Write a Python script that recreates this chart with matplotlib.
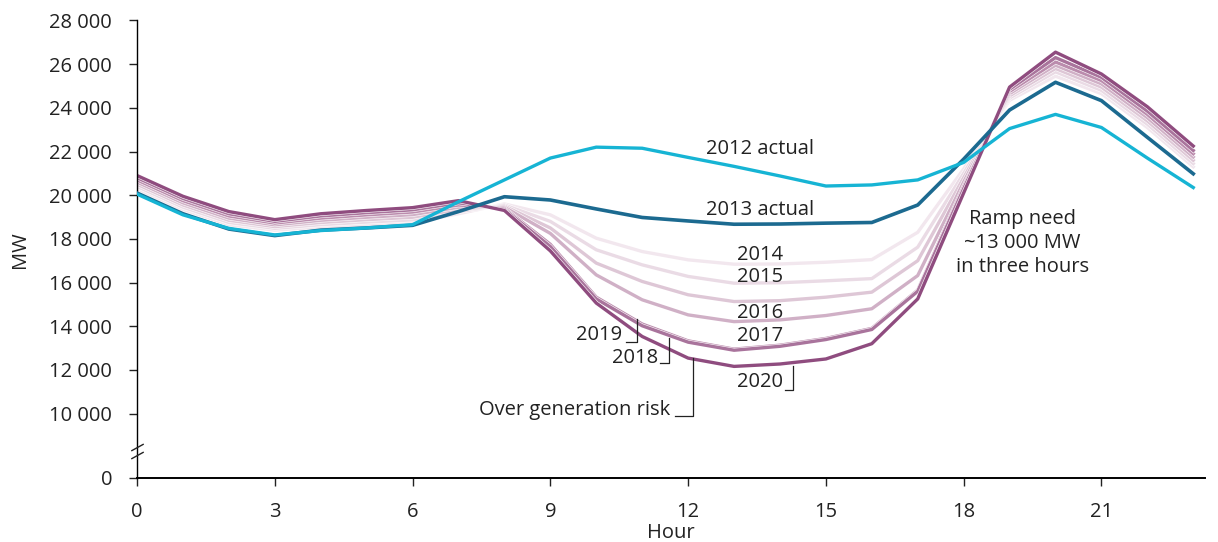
import numpy as np
import matplotlib.pyplot as plt
import matplotlib.patheffects as pe

# hourly net load, MW
hours = np.arange(24)
y2012 = [20050, 19100, 18480, 18180, 18380, 18500, 18650, 19700, 20700, 21700, 22200, 22150,
         21730, 21320, 20880, 20420, 20470, 20700, 21500, 23050, 23700, 23100, 21700, 20350]
y2013 = [20100, 19150, 18450, 18150, 18400, 18500, 18620, 19250, 19930, 19780, 19370, 18980,
         18820, 18670, 18680, 18720, 18750, 19550, 21650, 23900, 25170, 24330, 22650, 20980]
y2014 = [20300, 19350, 18650, 18400, 18550, 18650, 18750, 19150, 19600, 19100, 18030, 17420,
         17040, 16840, 16850, 16930, 17050, 18300, 21200, 24350, 25450, 24650, 23100, 21300]
y2015 = [20400, 19450, 18750, 18480, 18650, 18770, 18870, 19250, 19550, 18800, 17500, 16810,
         16280, 15970, 15990, 16080, 16180, 17620, 21000, 24450, 25650, 24800, 23250, 21450]
y2016 = [20500, 19550, 18850, 18560, 18750, 18880, 18990, 19350, 19500, 18500, 16890, 16050,
         15440, 15130, 15170, 15330, 15560, 17000, 20800, 24550, 25800, 24950, 23400, 21600]
y2017 = [20600, 19650, 18950, 18640, 18850, 18990, 19110, 19450, 19450, 18250, 16350, 15210,
         14520, 14210, 14290, 14490, 14800, 16320, 20600, 24650, 25950, 25100, 23550, 21750]
y2018 = [20700, 19750, 19050, 18720, 18950, 19100, 19230, 19550, 19400, 17750, 15330, 14100,
         13330, 12950, 13130, 13440, 13900, 15650, 20400, 24750, 26100, 25250, 23700, 21900]
y2019 = [20800, 19850, 19150, 18800, 19050, 19200, 19330, 19650, 19350, 17650, 15250, 14020,
         13270, 12900, 13080, 13390, 13850, 15600, 20300, 24850, 26300, 25400, 23850, 22050]
y2020 = [20900, 19950, 19250, 18880, 19150, 19300, 19430, 19750, 19300, 17450, 15060, 13530,
         12540, 12160, 12270, 12500, 13200, 15250, 20100, 24950, 26550, 25550, 24050, 22250]

forecast = [y2014, y2015, y2016, y2017, y2018, y2019, y2020]
forecast_colors = ['#f2e7ee', '#eadbe5', '#dec7d6', '#d0b0c6', '#bb8cad', '#a9749c', '#8f4c7f']

y_ticks = [10000, 12000, 14000, 16000, 18000, 20000, 22000, 24000, 26000, 28000]
y_zero = 7050  # where the "0" of the broken axis sits

plt.rcParams['font.family'] = ['Open Sans', 'DejaVu Sans']
fig = plt.figure(figsize=(12.18, 5.42), dpi=100)
ax = fig.add_axes([0.1125, 0.1181, 0.877, 0.8441])

edge = [pe.withStroke(linewidth=3.2, foreground='white')]
for ys, c in zip(forecast, forecast_colors):
    ax.plot(hours, ys, color=c, lw=2.4, path_effects=edge, zorder=2)
ax.plot(hours, y2013, color='#1c6a90', lw=2.6, zorder=3)
ax.plot(hours, y2012, color='#16b4d4', lw=2.4, zorder=3)

ax.set_xlim(0, 23.26)
ax.set_ylim(y_zero, 28000)
ax.set_xticks(range(0, 22, 3))
ax.set_yticks([y_zero] + y_ticks)
ax.set_yticklabels(['0'] + [f'{v:,}'.replace(',', ' ') for v in y_ticks])
ax.tick_params(axis='both', labelsize=14.5, colors='#222222', length=6, width=1, direction='out')
ax.tick_params(axis='y', pad=12)
ax.tick_params(axis='x', pad=11)
for s in ['top', 'right']:
    ax.spines[s].set_visible(False)
ax.spines['left'].set_linewidth(1)
ax.spines['bottom'].set_linewidth(1.4)
ax.set_xlabel('Hour', fontsize=14.5, labelpad=1, color='#222222')
ax.set_ylabel('MW', fontsize=14.5, labelpad=14, color='#222222')

# axis break marks
ax.plot([0, 0], [8450, 8100], ls='none', marker=[(-1, -0.55), (1, 0.55)], markersize=9,
        mec='#222222', mew=1, clip_on=False, zorder=5)

txt = dict(fontsize=14.5, color='#222222')
ax.text(13.57, 22100, '2012 actual', ha='center', va='center', **txt)
ax.text(13.57, 19300, '2013 actual', ha='center', va='center', **txt)
ax.text(13.57, 17280, '2014', ha='center', va='center', **txt)
ax.text(13.57, 16260, '2015', ha='center', va='center', **txt)
ax.text(13.57, 14610, '2016', ha='center', va='center', **txt)
ax.text(13.57, 13560, '2017', ha='center', va='center', **txt)
ax.text(13.57, 11460, '2020', ha='center', va='center', **txt)
ax.text(10.57, 13610, '2019', ha='right', va='center', **txt)
ax.text(11.35, 12560, '2018', ha='right', va='center', **txt)
ax.text(11.61, 10180, 'Over generation risk', ha='right', va='center', **txt)
ax.text(19.28, 17800, 'Ramp need\n~13 000 MW\nin three hours', ha='center', va='center',
        linespacing=1.25, **txt)

# bracket leaders from labels up to the curves
brackets = [
    (14.12, 14.29, 12190, 11090),
    (10.65, 10.89, 14340, 13290),
    (11.39, 11.59, 13470, 12330),
    (11.72, 12.11, 12560, 9900),
]
for x0, x1, ytop, ybot in brackets:
    ax.plot([x0, x1, x1], [ybot, ybot, ytop], color='#222222', lw=0.9, zorder=4)

fig.savefig('out.png', dpi=100)
